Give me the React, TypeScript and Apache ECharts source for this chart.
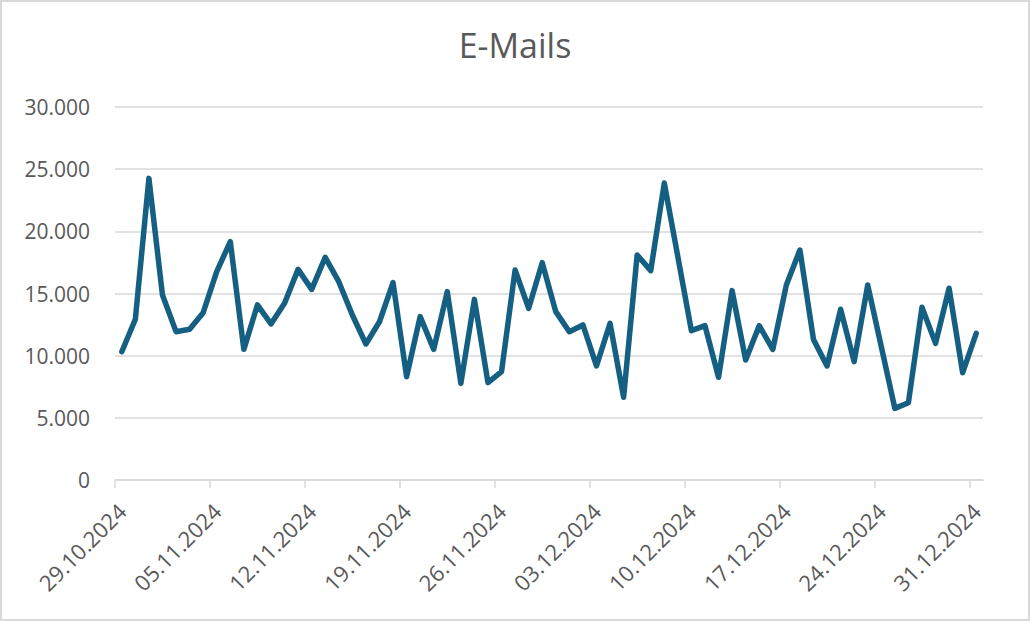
import React, { useEffect, useRef } from "react";
import * as echarts from "echarts";

const startDate = [2024, 9, 29]; // 29.10.2024 (month 0-based)
const dayCount = 64;

const emails = [
  10320, 12930, 24260, 14880, 11930, 12120, 13460, 16760, 19170, 10510,
  14080, 12550, 14210, 16940, 15330, 17910, 15950, 13270, 10940, 12730,
  15870, 8310, 13140, 10510, 15150, 7770, 14530, 7830, 8710, 16890,
  13810, 17480, 13540, 11930, 12470, 9170, 12600, 6650, 18100, 16840,
  23880, 17960, 12010, 12410, 8260, 15230, 9650, 12410, 10510, 15680,
  18500, 11310, 9170, 13730, 9520, 15680, 10720, 5760, 6220, 13890,
  10990, 15420, 8630, 11800,
];

const yTicks = [0, 5000, 10000, 15000, 20000, 25000, 30000];

function pad(n: number) {
  return n < 10 ? "0" + n : String(n);
}

const categories: string[] = [];
for (let i = 0; i < dayCount; i++) {
  const d = new Date(startDate[0], startDate[1], startDate[2] + i);
  categories.push(pad(d.getDate()) + "." + pad(d.getMonth() + 1) + "." + d.getFullYear());
}

function deNumber(v: number) {
  return String(Math.round(v)).replace(/\B(?=(\d{3})+(?!\d))/g, ".");
}

const FONT = "'Open Sans', 'Noto Sans', sans-serif";
const TEXT = "#595959";

export default function App() {
  const ref = useRef<HTMLDivElement>(null);
  useEffect(() => {
    if (!ref.current) return;
    const chart = echarts.init(ref.current, null, { renderer: "svg" });
    chart.setOption({
      animation: false,
      backgroundColor: "#ffffff",
      title: {
        text: "E-Mails",
        left: "center",
        top: 23,
        textStyle: { fontFamily: FONT, fontSize: 34, fontWeight: "normal", color: TEXT },
      },
      grid: { left: 115, right: 47, top: 107, bottom: 141, containLabel: false },
      xAxis: {
        type: "category",
        data: categories,
        boundaryGap: true,
        axisLine: { show: true, lineStyle: { color: "#d9d9d9", width: 1.5 } },
        axisTick: {
          show: true,
          interval: (index: number) => index % 7 === 0,
          length: 8,
          lineStyle: { color: "#d9d9d9", width: 1.5 },
        },
        axisLabel: {
          interval: 6,
          rotate: 45,
          margin: 27,
          fontFamily: FONT,
          fontSize: 22,
          color: TEXT,
        },
        splitLine: { show: false },
      },
      yAxis: {
        type: "value",
        min: yTicks[0],
        max: yTicks[yTicks.length - 1],
        interval: 5000,
        axisLine: { show: false },
        axisTick: { show: false },
        axisLabel: {
          margin: 25,
          fontFamily: FONT,
          fontSize: 21,
          color: TEXT,
          formatter: (v: number) => deNumber(v),
        },
        splitLine: { show: true, lineStyle: { color: "#d9d9d9", width: 1.5 } },
      },
      graphic: [
        {
          type: "rect",
          right: 43,
          top: 481,
          shape: { width: 6, height: 10 },
          style: { fill: "#ffffff" },
          z: 100,
        },
      ],
      series: [
        {
          type: "line",
          data: emails,
          symbol: "none",
          lineStyle: { color: "#156082", width: 5.5, join: "round", cap: "round" },
        },
      ],
    });
    return () => chart.dispose();
  }, []);
  return (
    <div style={{ position: "fixed", left: 0, top: 0, width: 1030, height: 621, background: "#fff" }}>
      <div ref={ref} style={{ position: "absolute", left: 0, top: 0, width: 1030, height: 621 }} />
      <div
        style={{
          position: "absolute",
          left: 0,
          top: 0,
          width: 1030,
          height: 621,
          boxSizing: "border-box",
          border: "2px solid #d9d9d9",
          pointerEvents: "none",
        }}
      />
    </div>
  );
}
